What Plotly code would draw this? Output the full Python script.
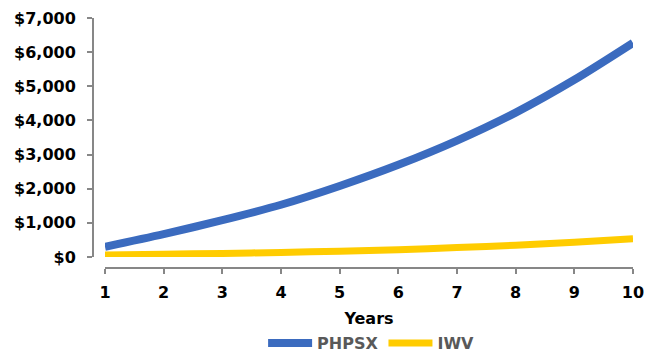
import plotly.graph_objects as go

years = [1, 2, 3, 4, 5, 6, 7, 8, 9, 10]
phpsx = [300, 670, 1080, 1530, 2080, 2700, 3410, 4230, 5190, 6270]
iwv = [55, 80, 105, 135, 170, 215, 275, 345, 430, 535]
y_ticks = [0, 1000, 2000, 3000, 4000, 5000, 6000, 7000]
y_labels = ["$" + f"{v:,}" for v in y_ticks]

AX = "#878787"
FONT = dict(family="DejaVu Sans", size=16, color="#000000", weight="bold")

fig = go.Figure()
fig.add_trace(go.Scatter(x=years, y=phpsx, name="PHPSX", mode="lines",
                         line=dict(color="#3B6BBF", width=8, shape="spline", smoothing=0.8)))
fig.add_trace(go.Scatter(x=years, y=iwv, name="IWV", mode="lines",
                         line=dict(color="#FFCC00", width=7, shape="spline", smoothing=0.8)))

fig.update_layout(
    width=648, height=354,
    margin=dict(l=93, r=15, t=18, b=86, autoexpand=False),
    paper_bgcolor="white", plot_bgcolor="white",
    font=FONT,
    showlegend=True,
    legend=dict(orientation="h", x=0.515, xanchor="center", y=-0.30, yanchor="middle",
                font=dict(family="DejaVu Sans", size=16, color="#595959", weight="bold"),
                itemwidth=44, tracegroupgap=0),
    xaxis=dict(domain=[0.0222, 1], range=[1, 10], anchor="free", position=0,
               tickmode="array", tickvals=years, automargin=False,
               showline=True, linecolor=AX, linewidth=2,
               ticks="outside", ticklen=5, tickwidth=2, tickcolor=AX,
               showgrid=False, zeroline=False,
               tickfont=FONT, ticklabelstandoff=5,
               title=dict(text="Years", font=FONT, standoff=11)),
    yaxis=dict(domain=[0.044, 1], range=[0, 7000], anchor="free", position=0,
               tickmode="array", tickvals=y_ticks, ticktext=y_labels, automargin=False,
               showline=True, linecolor=AX, linewidth=2,
               ticks="outside", ticklen=5, tickwidth=2, tickcolor=AX,
               showgrid=False, zeroline=False,
               tickfont=FONT, ticklabelstandoff=8),
)

fig.write_html("out.html", config={"displayModeBar": False},
               post_script="document.body.style.margin='0';document.body.style.padding='0';")
